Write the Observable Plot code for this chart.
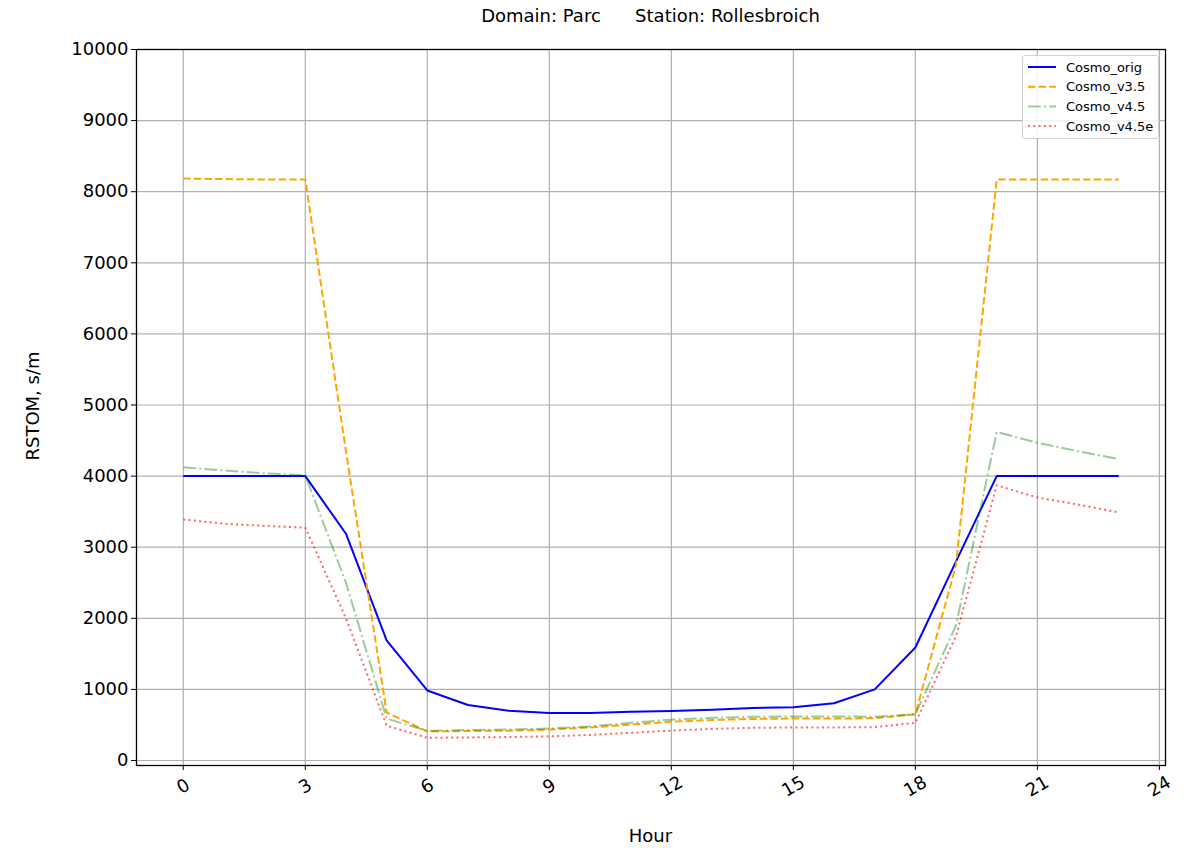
<!DOCTYPE html>
<html>
<head>
<meta charset="utf-8">
<script src="https://cdn.jsdelivr.net/npm/d3@7"></script>
<script src="https://cdn.jsdelivr.net/npm/@observablehq/plot@0.6"></script>
<style>
  html, body { margin: 0; padding: 0; background: #fff; }
  #wrap { position: relative; width: 1187px; height: 848px; font-family: "DejaVu Sans", sans-serif; }
  #chart { position: absolute; left: 0; top: 0; }
  .lbl { position: absolute; font-size: 18px; color: #000; white-space: pre; line-height: 22px; }
  #legend { position: absolute; left: 1022px; top: 55px; width: 135px; height: 82px; border: 1px solid #d0d0d0; border-radius: 3px; background: rgba(255,255,255,0.85); }
</style>
</head>
<body>
<div id="wrap">
  <div id="chart"></div>
  <div class="lbl" style="left:136px; width:1029px; top:5px; text-align:center;">Domain: Parc      Station: Rollesbroich</div>
  <div class="lbl" style="left:136px; width:1029px; top:825px; text-align:center;">Hour</div>
  <div class="lbl" style="left:33px; top:406px; transform: translate(-50%,-50%) rotate(-90deg);">RSTOM, s/m</div>
  <div id="legend"></div>
</div>
<script>
// ---- data ----
const hours = [0,1,2,3,4,5,6,7,8,9,10,11,12,13,14,15,16,17,18,19,20,21,22,23];
const cosmoOrig = [4000,4000,4000,4000,3190,1690,985,780,700,670,670,685,695,715,740,750,805,1000,1590,2800,4000,4000,4000,4000];
const cosmoV35  = [8185,8178,8172,8170,4350,675,410,415,420,435,465,505,545,570,585,590,590,595,650,2750,8170,8170,8170,8170];
const cosmoV45  = [4125,4080,4040,4010,2500,590,415,430,435,450,480,530,575,600,615,620,620,615,650,1900,4620,4470,4350,4240];
const cosmoV45e = [3390,3330,3300,3275,2000,490,320,325,330,340,360,390,420,445,460,465,465,470,530,1750,3870,3700,3600,3490];
const seriesNames = ["Cosmo_orig","Cosmo_v3.5","Cosmo_v4.5","Cosmo_v4.5e"];
const xTicks = [0,3,6,9,12,15,18,21,24];
const yTicks = [0,1000,2000,3000,4000,5000,6000,7000,8000,9000,10000];

const styles = [
  {stroke: "blue", strokeOpacity: 1, dash: null},
  {stroke: "orange", strokeOpacity: 1, dash: "7.4,3.2"},
  {stroke: "green", strokeOpacity: 0.4, dash: "12.8,3.2,2,3.2"},
  {stroke: "red", strokeOpacity: 0.6, dash: "2,3.3"}
];
const allSeries = [cosmoOrig, cosmoV35, cosmoV45, cosmoV45e];

const lineMarks = allSeries.map((vals, i) => {
  const data = hours.map((h, j) => ({hour: h, value: vals[j]}));
  return Plot.line(data, {
    x: "hour", y: "value",
    stroke: styles[i].stroke, strokeOpacity: styles[i].strokeOpacity,
    strokeWidth: 2, strokeDasharray: styles[i].dash, strokeLinecap: "butt"
  });
});

const chart = Plot.plot({
  width: 1187,
  height: 848,
  marginLeft: 136,
  marginRight: 22,
  marginTop: 49,
  marginBottom: 83,
  style: {fontFamily: "DejaVu Sans, sans-serif", fontSize: "18px", background: "white", color: "black"},
  x: {domain: [-1.15, 24.15]},
  y: {domain: [-70, 10000]},
  marks: [
    Plot.ruleY(yTicks, {y: d => d, stroke: "#b0b0b0", strokeWidth: 1.2}),
    Plot.ruleX(xTicks, {x: d => d, stroke: "#b0b0b0", strokeWidth: 1.2}),
    ...lineMarks,
    Plot.frame({stroke: "#000", strokeWidth: 1.3}),
    Plot.axisY({ticks: yTicks, tickSize: 5, tickPadding: 3, label: null, tickFormat: d => String(d), fontSize: 18}),
    Plot.axisX({ticks: xTicks, tickSize: 5, label: null, tickFormat: () => ""}),
    Plot.text(xTicks, {x: d => d, text: d => String(d), frameAnchor: "bottom", dy: 21, rotate: -30, textAnchor: "middle", lineAnchor: "middle", fontSize: 18})
  ]
});
document.getElementById("chart").appendChild(chart);

// ---- legend ----
const ns = "http://www.w3.org/2000/svg";
const leg = document.createElementNS(ns, "svg");
leg.setAttribute("width", "135");
leg.setAttribute("height", "82");
seriesNames.forEach((name, i) => {
  const cy = 11 + i * 19.7;
  const ln = document.createElementNS(ns, "line");
  ln.setAttribute("x1", "5"); ln.setAttribute("x2", "33");
  ln.setAttribute("y1", cy); ln.setAttribute("y2", cy);
  ln.setAttribute("stroke", styles[i].stroke);
  ln.setAttribute("stroke-opacity", styles[i].strokeOpacity);
  ln.setAttribute("stroke-width", "2");
  if (styles[i].dash) ln.setAttribute("stroke-dasharray", styles[i].dash);
  leg.appendChild(ln);
  const tx = document.createElementNS(ns, "text");
  tx.setAttribute("x", "43"); tx.setAttribute("y", cy);
  tx.setAttribute("dy", "0.35em");
  tx.setAttribute("font-size", "13");
  tx.setAttribute("font-family", "DejaVu Sans, sans-serif");
  tx.textContent = name;
  leg.appendChild(tx);
});
document.getElementById("legend").appendChild(leg);
</script>
</body>
</html>
